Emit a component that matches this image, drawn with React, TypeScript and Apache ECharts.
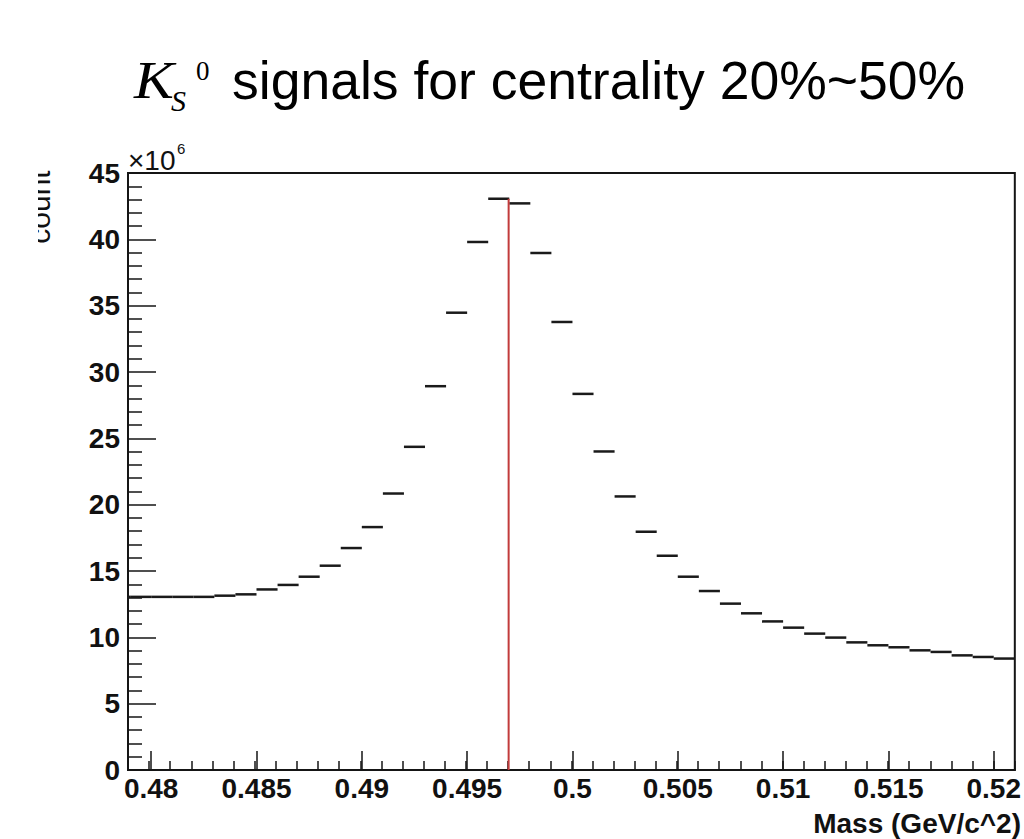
import React, { useEffect, useRef } from "react";
import * as echarts from "echarts";

// Invariant-mass histogram, 1 MeV bins, counts in units of 10^6
const binWidth = 0.001;
const binLowEdges = [
  0.478, 0.479, 0.48, 0.481, 0.482, 0.483, 0.484, 0.485, 0.486, 0.487,
  0.488, 0.489, 0.49, 0.491, 0.492, 0.493, 0.494, 0.495, 0.496, 0.497,
  0.498, 0.499, 0.5, 0.501, 0.502, 0.503, 0.504, 0.505, 0.506, 0.507,
  0.508, 0.509, 0.51, 0.511, 0.512, 0.513, 0.514, 0.515, 0.516, 0.517,
  0.518, 0.519, 0.52,
];
const binCounts = [
  13.05, 13.05, 13.05, 13.05, 13.05, 13.14, 13.24, 13.61, 13.95, 14.57,
  15.4, 16.73, 18.31, 20.84, 24.36, 28.93, 34.47, 39.8, 43.06, 42.71,
  38.97, 33.77, 28.35, 24.01, 20.62, 17.96, 16.15, 14.57, 13.49, 12.54,
  11.81, 11.2, 10.73, 10.28, 9.98, 9.62, 9.4, 9.25, 9.02, 8.9,
  8.64, 8.52, 8.4,
];
const massTicks = [0.48, 0.485, 0.49, 0.495, 0.5, 0.505, 0.51, 0.515, 0.52];
const massMin = 0.4789;
const massMax = 0.521;
const countMax = 45;

// Vertical marker at the peak position
const markerMass = 0.49697;
const markerTop = 43.06;

const labelFont = '"Liberation Sans", Arial, Helvetica, sans-serif';
const serifFont = '"Liberation Serif", "Times New Roman", serif';

export default function App() {
  const ref = useRef<HTMLDivElement>(null);

  useEffect(() => {
    if (!ref.current) return;
    const chart = echarts.init(ref.current, undefined, { renderer: "svg" });

    const histData = binLowEdges.map((lo, i) => [lo, lo + binWidth, binCounts[i]]);

    chart.setOption({
      animation: false,
      backgroundColor: "#ffffff",
      grid: {
        left: 128,
        top: 173,
        right: 2,
        bottom: 69,
        show: true,
        borderColor: "#151515",
        borderWidth: 2,
        backgroundColor: "transparent",
      },
      xAxis: [
        {
          type: "value",
          min: massMin,
          max: massMax,
          position: "bottom",
          axisLine: { show: true, onZero: false, lineStyle: { color: "#151515", width: 2 } },
          axisTick: {
            show: true,
            inside: true,
            length: 19,
            customValues: massTicks,
            lineStyle: { color: "#151515", width: 1.5 },
          },
          axisLabel: {
            show: true,
            customValues: massTicks,
            margin: 4,
            color: "#111",
            fontFamily: labelFont,
            fontWeight: "bold",
            fontSize: 28,
            formatter: (v: number) => String(+v.toFixed(3)),
          },
          splitLine: { show: false },
        },
        {
          type: "value",
          min: 0.479,
          max: massMax,
          interval: binWidth,
          position: "bottom",
          axisLine: { show: false },
          axisTick: { show: true, inside: true, length: 9, lineStyle: { color: "#151515", width: 1.5 } },
          axisLabel: { show: false },
          splitLine: { show: false },
        },
      ],
      yAxis: {
        type: "value",
        min: 0,
        max: countMax,
        interval: 5,
        axisLine: { show: true, lineStyle: { color: "#151515", width: 2 } },
        axisTick: { show: true, inside: true, length: 28, lineStyle: { color: "#151515", width: 1.5 } },
        minorTick: { show: true, splitNumber: 5, length: 14, lineStyle: { color: "#151515", width: 1.5 } },
        axisLabel: {
          margin: 8,
          color: "#111",
          fontFamily: labelFont,
          fontWeight: "bold",
          fontSize: 28,
        },
        splitLine: { show: false },
      },
      series: [
        {
          type: "custom",
          name: "signal",
          xAxisIndex: 0,
          yAxisIndex: 0,
          encode: { x: [0, 1], y: 2 },
          data: histData,
          clip: true,
          renderItem: (_params: any, api: any) => {
            const a = api.coord([api.value(0), api.value(2)]);
            const b = api.coord([api.value(1), api.value(2)]);
            return {
              type: "line",
              shape: { x1: a[0], y1: a[1], x2: b[0], y2: b[1] },
              style: { stroke: "#1a1a1a", lineWidth: 2.5 },
            };
          },
          z: 3,
        },
        {
          type: "line",
          name: "peak",
          xAxisIndex: 0,
          yAxisIndex: 0,
          data: [
            [markerMass, 0],
            [markerMass, markerTop],
          ],
          symbol: "none",
          lineStyle: { color: "#c23b3b", width: 2 },
          z: 4,
        },
      ],
      graphic: [
        // Title: K_S^0 signals for centrality 20%~50%
        {
          type: "text",
          x: 134,
          y: 80,
          scaleX: 1.15,
          style: { text: "K", font: `italic 52px ${serifFont}`, fill: "#000", textVerticalAlign: "middle" },
        },
        {
          type: "text",
          x: 171,
          y: 100,
          style: { text: "S", font: `italic 30px ${serifFont}`, fill: "#000", textVerticalAlign: "middle" },
        },
        {
          type: "text",
          x: 196,
          y: 71,
          style: { text: "0", font: `27px ${serifFont}`, fill: "#000", textVerticalAlign: "middle" },
        },
        {
          type: "text",
          x: 232,
          y: 80,
          style: {
            text: "signals for centrality 20%~50%",
            font: `53.5px ${labelFont}`,
            fill: "#000",
            textVerticalAlign: "middle",
          },
        },
        // Axis multiplier
        {
          type: "text",
          x: 128,
          y: 160,
          style: { text: "\u00d710", font: `28px ${labelFont}`, fill: "#111", textVerticalAlign: "middle" },
        },
        {
          type: "text",
          x: 177,
          y: 148,
          style: { text: "6", font: `15px ${labelFont}`, fill: "#111", textVerticalAlign: "middle" },
        },
        // Y axis title, partly cut at the left border
        {
          type: "text",
          x: 39,
          y: 207,
          rotation: Math.PI / 2,
          style: {
            text: "count",
            font: `30px ${labelFont}`,
            fill: "#111",
            textAlign: "center",
            textVerticalAlign: "middle",
          },
        },
        {
          type: "rect",
          shape: { x: 0, y: 150, width: 38, height: 120 },
          style: { fill: "#ffffff" },
          z: 100,
        },
        // X axis title
        {
          type: "text",
          x: 1021,
          y: 823,
          style: {
            text: "Mass (GeV/c^2)",
            font: `bold 28px ${labelFont}`,
            fill: "#111",
            textAlign: "right",
            textVerticalAlign: "middle",
          },
        },
      ],
    });

    return () => chart.dispose();
  }, []);

  return (
    <div
      ref={ref}
      style={{ position: "fixed", left: 0, top: 0, width: 1024, height: 839, background: "#fff" }}
    />
  );
}
